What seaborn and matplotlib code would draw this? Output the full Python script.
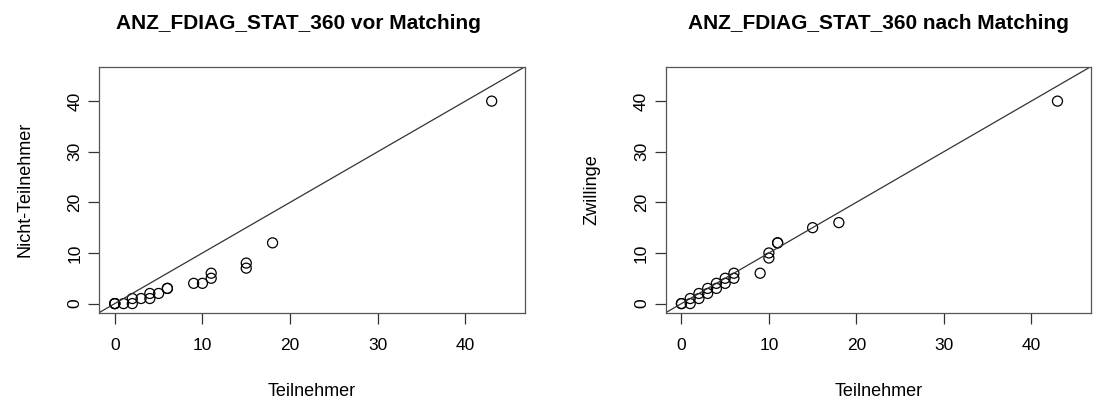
import matplotlib
matplotlib.use("Agg")
import matplotlib.pyplot as plt
import seaborn as sns
import pandas as pd

# Data: quantile pairs
vor_teilnehmer = [0, 0, 0, 1, 2, 2, 3, 4, 4, 5, 6, 6, 9, 10, 11, 11, 15, 15, 18, 43]
vor_nicht_teilnehmer = [0, 0, 0, 0, 0, 1, 1, 1, 2, 2, 3, 3, 4, 4, 5, 6, 7, 8, 12, 40]

nach_teilnehmer = [0, 0, 1, 1, 2, 2, 3, 3, 4, 4, 5, 5, 6, 6, 9, 10, 10, 11, 11, 15, 18, 43]
nach_zwillinge = [0, 0, 0, 1, 1, 2, 2, 3, 3, 4, 4, 5, 5, 6, 6, 9, 10, 12, 12, 15, 16, 40]

titles = ["ANZ_FDIAG_STAT_360 vor Matching", "ANZ_FDIAG_STAT_360 nach Matching"]
ylabels = ["Nicht-Teilnehmer", "Zwillinge"]
xlabel = "Teilnehmer"
ticks = [0, 10, 20, 30, 40]

sns.set_style("white")
plt.rcParams['font.family'] = ['Liberation Sans', 'DejaVu Sans']
plt.rcParams['text.color'] = 'black'
plt.rcParams['axes.labelcolor'] = 'black'
plt.rcParams['xtick.color'] = 'black'
plt.rcParams['ytick.color'] = 'black'

fig = plt.figure(figsize=(10.93, 4.05), dpi=100)
h = 246 / 405
b = (405 - 312.7) / 405
ax1 = fig.add_axes([99 / 1093, b, 426 / 1093, h])
ax2 = fig.add_axes([665.7 / 1093, b, 425 / 1093, h])

datasets = [
    pd.DataFrame({"x": vor_teilnehmer, "y": vor_nicht_teilnehmer}),
    pd.DataFrame({"x": nach_teilnehmer, "y": nach_zwillinge}),
]
title_x = [0.467, 0.5]

for ax, df, title, ylab, tx in zip([ax1, ax2], datasets, titles, ylabels, title_x):
    sns.scatterplot(data=df, x="x", y="y", ax=ax, marker="o", s=52,
                    facecolors="none", edgecolor="black", linewidth=0.9)
    ax.set_xlim(-1.8, 46.8)
    ax.set_ylim(-1.8, 46.8)
    ax.axline((0, 0), slope=1, color="#333333", linewidth=0.9, zorder=1)
    ax.set_xticks(ticks)
    ax.set_yticks(ticks)
    ax.tick_params(axis="both", direction="out", length=8, width=0.9,
                   color="#333333", labelcolor="black", labelsize=12.5,
                   bottom=True, left=True)
    ax.tick_params(axis="x", pad=10)
    ax.tick_params(axis="y", pad=4)
    for lab in ax.get_yticklabels():
        lab.set_rotation(90)
        lab.set_va("center")
    for sp in ax.spines.values():
        sp.set_visible(True)
        sp.set_color("#555555")
        sp.set_linewidth(0.9)
    ax.set_xlabel(xlabel, fontsize=13, color="black")
    ax.set_ylabel(ylab, fontsize=13, color="black")
    ax.xaxis.set_label_coords(0.5, -0.286)
    ax.yaxis.set_label_coords(-0.154, 0.5)
    ax.set_title(title, fontsize=15, fontweight="bold", pad=27, x=tx, color="black")

fig.savefig("out.png", dpi=100, facecolor="white")
